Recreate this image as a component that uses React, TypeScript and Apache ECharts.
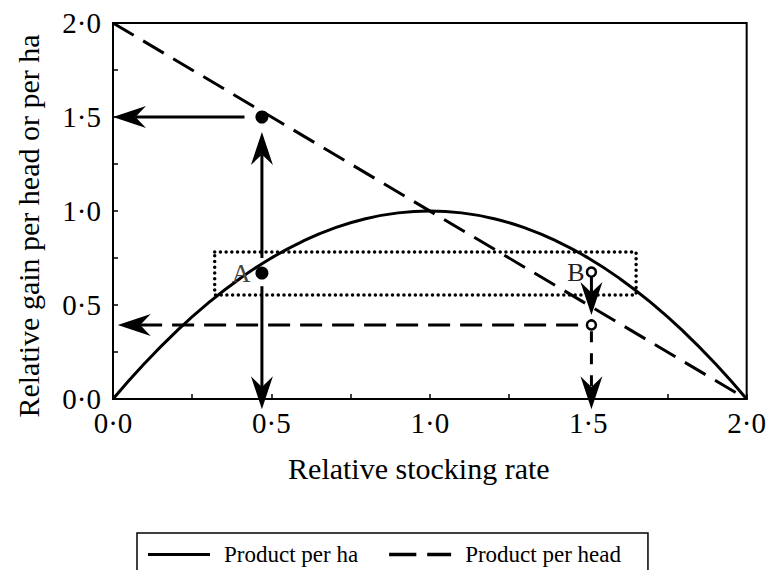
import React, { useEffect, useRef } from 'react';
import * as echarts from 'echarts';

const FONT = "'Liberation Serif', 'Times New Roman', Times, serif";

// Relative stocking rate samples and the solid curve (product per ha)
const perHaX = [0, 0.1, 0.2, 0.3, 0.4, 0.5, 0.6, 0.7, 0.8, 0.9, 1.0, 1.1, 1.2, 1.3, 1.4, 1.5, 1.6, 1.7, 1.8, 1.9, 2.0];
const perHaY = [0, 0.19, 0.36, 0.51, 0.64, 0.75, 0.84, 0.91, 0.96, 0.99, 1.0, 0.99, 0.96, 0.91, 0.84, 0.75, 0.64, 0.51, 0.36, 0.19, 0];

// Dashed line (product per head)
const perHeadX = [0, 2];
const perHeadY = [2, 0];

// Axis tick labels
const tickValues = [0, 0.5, 1.0, 1.5, 2.0];
const tickLabels = ['0·0', '0·5', '1·0', '1·5', '2·0'];

// Marked points
const filledPoints = [[0.47, 0.67], [0.47, 1.5]];
const filledLabels = ['A', ''];
const hollowPoints = [[1.51, 0.675], [1.51, 0.394]];
const hollowLabels = ['B', ''];

// Dotted box: [x1, y1, x2, y2]
const dottedBox = [[0.321, 0.782, 1.651, 0.553]];

// Arrows: [xFrom, yFrom, xTo, yTo]
const solidArrows = [
  [0.47, 0.75, 0.47, 1.42],
  [0.415, 1.5, 0.0, 1.5],
  [0.47, 0.6, 0.47, -0.055],
];
const dashedArrows = [
  [1.51, 0.65, 1.51, 0.447],
  [1.468, 0.394, 0.015, 0.394],
  [1.51, 0.36, 1.51, -0.055],
];
const dashedArrowDash = [null, [22, 10], [11, 11]];

const legendNames = ['Product per ha', 'Product per head'];
const legendIcons = ['path://M0,0H62V3H0Z', 'path://M0,0H25V3H0Z M35,0H57V3H35Z'];

function makeArrowRenderer(dashes: (number[] | null)[] | null) {
  return (params: any, api: any) => {
    const p1 = api.coord([api.value(0), api.value(1)]);
    const p2 = api.coord([api.value(2), api.value(3)]);
    const dx = p2[0] - p1[0];
    const dy = p2[1] - p1[1];
    const len = Math.hypot(dx, dy) || 1;
    const ux = dx / len;
    const uy = dy / len;
    const nx = -uy;
    const ny = ux;
    const L = 33;
    const W = 11;
    const N = 0.68 * L;
    const back = [p2[0] - ux * L, p2[1] - uy * L];
    const notch = [p2[0] - ux * N, p2[1] - uy * N];
    const dash = dashes ? dashes[params.dataIndex] : null;
    const children: any[] = [];
    if (len > N) {
      children.push({
        type: 'line',
        shape: { x1: p1[0], y1: p1[1], x2: notch[0], y2: notch[1] },
        style: { stroke: '#000', lineWidth: 3, lineDash: dash || null, fill: null },
      });
    }
    children.push({
      type: 'polygon',
      shape: {
        points: [
          [p2[0], p2[1]],
          [back[0] + nx * W, back[1] + ny * W],
          [notch[0], notch[1]],
          [back[0] - nx * W, back[1] - ny * W],
        ],
      },
      style: { fill: '#000' },
    });
    return { type: 'group', children };
  };
}

function labelFor(v: number) {
  for (let i = 0; i < tickValues.length; i++) {
    if (Math.abs(v - tickValues[i]) < 1e-6) return tickLabels[i];
  }
  return '';
}

export default function App() {
  const ref = useRef<HTMLDivElement>(null);

  useEffect(() => {
    if (!ref.current) return;
    const chart = echarts.init(ref.current, null, { renderer: 'svg' });

    const axisCommon = {
      type: 'value' as const,
      min: 0,
      max: 2,
      interval: 0.25,
      axisLine: { show: true, onZero: false, lineStyle: { color: '#000', width: 2 } },
      axisTick: { show: true, inside: true, length: 5, lineStyle: { color: '#000', width: 1.5 } },
      splitLine: { show: false },
      axisLabel: {
        color: '#000',
        fontFamily: FONT,
        fontSize: 29,
        formatter: (v: number) => labelFor(v),
      },
    };

    chart.setOption({
      animation: false,
      backgroundColor: '#fff',
      grid: {
        left: 113,
        right: 20,
        top: 23,
        bottom: 171,
        show: true,
        borderColor: '#000',
        borderWidth: 2,
        containLabel: false,
      },
      xAxis: {
        ...axisCommon,
        axisLabel: { ...axisCommon.axisLabel, margin: 9 },
        name: 'Relative stocking rate',
        nameLocation: 'middle',
        nameGap: 54,
        nameTextStyle: { color: '#000', fontFamily: FONT, fontSize: 30, padding: [0, 22, 0, 0] },
      },
      yAxis: {
        ...axisCommon,
        axisLabel: { ...axisCommon.axisLabel, margin: 12 },
        name: 'Relative gain per head or per ha',
        nameLocation: 'middle',
        nameGap: 70,
        nameTextStyle: { color: '#000', fontFamily: FONT, fontSize: 30, padding: [0, 30, 0, 0] },
      },
      legend: {
        left: 137,
        top: 533,
        orient: 'horizontal',
        itemWidth: 62,
        itemHeight: 4,
        itemGap: 31,
        borderColor: '#000',
        borderWidth: 1.5,
        padding: [10, 27, 10, 11],
        textStyle: { color: '#000', fontFamily: FONT, fontSize: 23, padding: [0, 0, 0, 9] },
        data: [
          { name: legendNames[0], icon: legendIcons[0], itemStyle: { color: '#000' } },
          { name: legendNames[1], icon: legendIcons[1], itemStyle: { color: '#000' } },
        ],
      },
      series: [
        {
          name: legendNames[0],
          type: 'line',
          data: perHaX.map((x, i) => [x, perHaY[i]]),
          smooth: true,
          symbol: 'none',
          color: '#000',
          lineStyle: { color: '#000', width: 3 },
          z: 3,
        },
        {
          name: legendNames[1],
          type: 'line',
          data: perHeadX.map((x, i) => [x, perHeadY[i]]),
          symbol: 'none',
          color: '#000',
          lineStyle: { color: '#000', width: 3, type: [24, 11] },
          z: 3,
        },
        {
          name: 'box',
          type: 'custom',
          data: dottedBox,
          encode: { x: [0, 2], y: [1, 3] },
          clip: false,
          silent: true,
          renderItem: (_p: any, api: any) => {
            const a = api.coord([api.value(0), api.value(1)]);
            const b = api.coord([api.value(2), api.value(3)]);
            return {
              type: 'rect',
              shape: { x: a[0], y: a[1], width: b[0] - a[0], height: b[1] - a[1] },
              style: { fill: null, stroke: '#000', lineWidth: 3.5, lineDash: [0.01, 5.7], lineCap: 'round' },
            };
          },
          z: 2,
        },
        {
          name: 'solidArrows',
          type: 'custom',
          data: solidArrows,
          encode: { x: [0, 2], y: [1, 3] },
          clip: false,
          silent: true,
          renderItem: makeArrowRenderer(null),
          z: 4,
        },
        {
          name: 'dashedArrows',
          type: 'custom',
          data: dashedArrows,
          encode: { x: [0, 2], y: [1, 3] },
          clip: false,
          silent: true,
          renderItem: makeArrowRenderer(dashedArrowDash),
          z: 4,
        },
        {
          name: 'A',
          type: 'scatter',
          data: filledPoints,
          symbolSize: 13,
          itemStyle: { color: '#000', opacity: 1 },
          label: {
            show: true,
            position: 'left',
            distance: 5,
            formatter: (p: any) => filledLabels[p.dataIndex],
            color: '#444',
            fontFamily: FONT,
            fontSize: 26,
          },
          z: 5,
        },
        {
          name: 'B',
          type: 'scatter',
          data: hollowPoints,
          symbolSize: 9,
          itemStyle: { color: '#fff', borderColor: '#000', borderWidth: 2.5, opacity: 1 },
          label: {
            show: true,
            position: 'left',
            distance: 1,
            formatter: (p: any) => hollowLabels[p.dataIndex],
            color: '#222',
            fontFamily: FONT,
            fontSize: 26,
          },
          z: 5,
        },
      ],
    });

    return () => chart.dispose();
  }, []);

  return <div ref={ref} style={{ width: 769, height: 570, position: 'absolute', left: 0, top: 0 }} />;
}
